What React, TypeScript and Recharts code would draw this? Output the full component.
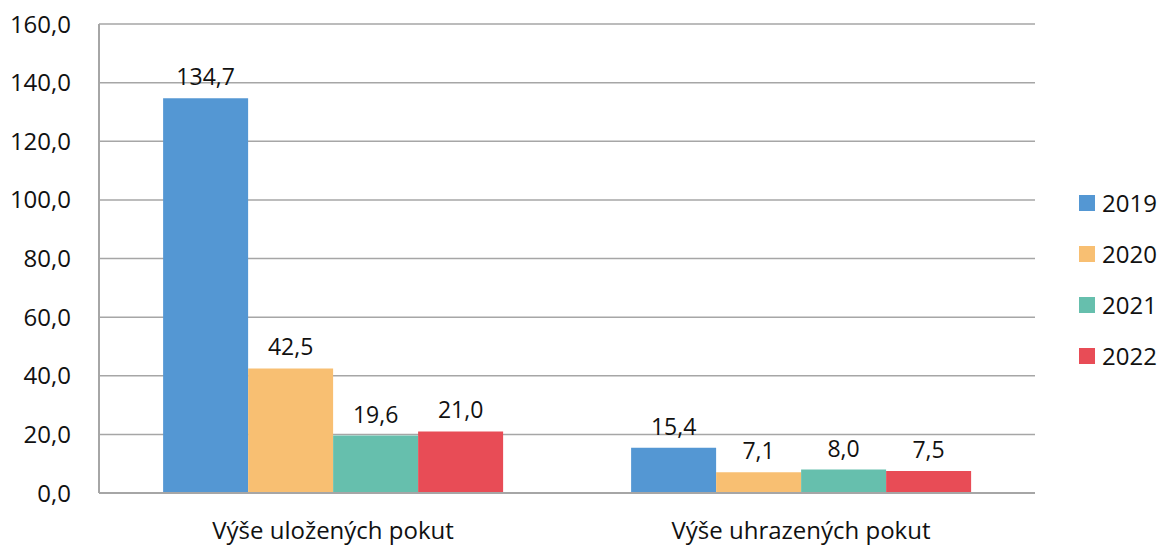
import React from "react";
import {
    BarChart,
    Bar,
    XAxis,
    YAxis,
    CartesianGrid,
    LabelList,
} from "recharts";

// Výše pokut (mil. Kč) podle roku
const categories = ["Výše uložených pokut", "Výše uhrazených pokut"];
const years = ["2019", "2020", "2021", "2022"];
const values2019 = [134.7, 15.4];
const values2020 = [42.5, 7.1];
const values2021 = [19.6, 8.0];
const values2022 = [21.0, 7.5];
const yTicks = [0, 20, 40, 60, 80, 100, 120, 140, 160];

const colors = ["#5497d3", "#f8bf72", "#66bfad", "#e84c56"];
const seriesValues = [values2019, values2020, values2021, values2022];

const data = categories.map((name, i) => {
    const row: Record<string, string | number> = { name };
    years.forEach((y, j) => {
        row[y] = seriesValues[j][i];
    });
    return row;
});

const fmt = (v: number) => Number(v).toFixed(1).replace(".", ",");

const font = "'Open Sans', 'Noto Sans', sans-serif";

export default function App() {
    return (
        <div style={{ position: "relative", width: 1162, height: 546, fontFamily: font, background: "#fff" }}>
            <style>{`body{margin:0}`}</style>
            <BarChart
                width={1162}
                height={546}
                data={data}
                margin={{ top: 24, right: 127, bottom: 0, left: 0 }}
                barCategoryGap="13.7%"
                barGap={0}
            >
                <CartesianGrid vertical={false} stroke="#a6a6a6" strokeWidth={1.5} />
                <XAxis
                    dataKey="name"
                    height={53}
                    tickLine={false}
                    axisLine={{ stroke: "#a6a6a6", strokeWidth: 2 }}
                    tick={{ fill: "#111", fontSize: 24, fontFamily: font }}
                    tickMargin={23}
                />
                <YAxis
                    width={99}
                    domain={[0, 160]}
                    ticks={yTicks}
                    interval={0}
                    tickFormatter={fmt}
                    tickLine={false}
                    axisLine={{ stroke: "#a6a6a6", strokeWidth: 2 }}
                    tick={{ fill: "#111", fontSize: 24, fontFamily: font }}
                    tickMargin={22}
                />
                <YAxis
                    yAxisId="right"
                    orientation="right"
                    width={0}
                    domain={[0, 160]}
                    tick={false}
                    tickLine={false}
                    axisLine={{ stroke: "#a6a6a6", strokeWidth: 2 }}
                />
                {years.map((y, j) => (
                    <Bar key={y} dataKey={y} fill={colors[j]} isAnimationActive={false}>
                        <LabelList
                            dataKey={y}
                            position="top"
                            offset={13}
                            formatter={(v: number) => fmt(v)}
                            style={{ fill: "#111", fontSize: 23, fontFamily: font }}
                        />
                    </Bar>
                ))}
            </BarChart>
            <div style={{ position: "absolute", left: 1079, top: 177 }}>
                {years.map((y, j) => (
                    <div key={y} style={{ display: "flex", alignItems: "center", height: 51 }}>
                        <div style={{ width: 16, height: 16, background: colors[j], marginRight: 7 }} />
                        <span style={{ fontSize: 24, color: "#111" }}>{y}</span>
                    </div>
                ))}
            </div>
        </div>
    );
}
